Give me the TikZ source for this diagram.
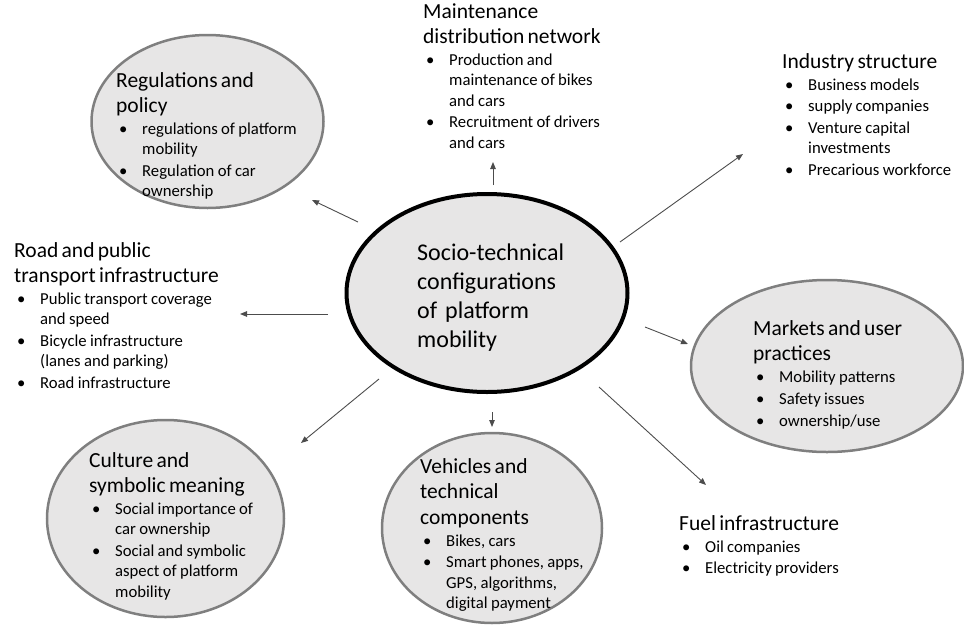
\documentclass[tikz,border=0pt]{standalone}
\usepackage{fontspec}
\setmainfont{Carlito}
\usetikzlibrary{shapes.geometric,arrows.meta}

\definecolor{shade}{HTML}{E7E6E6}
\definecolor{rim}{HTML}{7F7F7F}

\def\hd{\fontsize{21.5}{25.5}\selectfont\rule{0pt}{17pt}}
\newcommand{\itm}[1]{\par\fontsize{16.7}{20.3}\selectfont\setlength{\parskip}{1.5pt}%
  \hangindent=26pt\hangafter=1\noindent\hbox to 26pt{\hspace{3pt}\textbullet\hfil}#1\par}

\begin{document}
\begin{tikzpicture}[x=1pt,y=-1pt,
    bubble/.style={ellipse,draw=rim,line width=2.5pt,fill=shade,inner sep=0pt},
    txt/.style={anchor=north west,inner sep=0pt,text width=250pt,align=left},
    link/.style={draw=black!70,line width=0.9pt,-{Triangle[length=7pt,width=5.5pt]}}]
  \useasboundingbox (0,0) rectangle (964,624);

  \node[bubble,minimum width=232,minimum height=173] (reg) at (207.5,121.5) {};
  \node[bubble,minimum width=272,minimum height=172] (mkt) at (827,366) {};
  \node[bubble,minimum width=237,minimum height=197] (cult) at (165.5,518.5) {};
  \node[bubble,minimum width=220,minimum height=190] (veh) at (492,528) {};
  \node[bubble,draw=black,line width=4pt,minimum width=281,minimum height=198] (core) at (487,293) {};

  \node[txt,font=\fontsize{24}{29}\selectfont] (coretext) at (417,241)
    {\rule{0pt}{19pt}Socio-technical\newline configurations\newline of platform\newline mobility\par};

  \node[txt] (maintext) at (423,1) {\hd Maintenance\newline distribution network
    \itm{Production and\newline maintenance of bikes\newline and cars}
    \itm{Recruitment of drivers\newline and cars}};
  \node[txt] (indtext) at (782,51) {\hd Industry structure
    \itm{Business models}\itm{supply companies}
    \itm{Venture capital\newline investments}\itm{Precarious workforce}};
  \node[txt] (regtext) at (116,70) {\hd Regulations and\newline policy
    \itm{regulations of platform\newline mobility}
    \itm{Regulation of car\newline ownership}};
  \node[txt] (roadtext) at (14,240) {\hd Road and public\newline transport infrastructure
    \itm{Public transport coverage\newline and speed}
    \itm{Bicycle infrastructure\newline (lanes and parking)}
    \itm{Road infrastructure}};
  \node[txt] (mkttext) at (753,318) {\hd Markets and user\newline practices
    \itm{Mobility patterns}\itm{Safety issues}\itm{ownership/use}};
  \node[txt] (culttext) at (89,450) {\hd Culture and\newline symbolic meaning
    \itm{Social importance of\newline car ownership}
    \itm{Social and symbolic\newline aspect of platform\newline mobility}};
  \node[txt] (vehtext) at (420,456) {\hd Vehicles and\newline technical\newline components
    \itm{Bikes, cars}
    \itm{Smart phones, apps,\newline GPS, algorithms,\newline digital payment}};
  \node[txt] (fueltext) at (679,513) {\hd Fuel infrastructure
    \itm{Oil companies}\itm{Electricity providers}};

  \coordinate (up-a) at (493,185);   \coordinate (up-b) at (493,162);
  \coordinate (ind-a) at (620,242);  \coordinate (ind-b) at (743,154);
  \coordinate (reg-a) at (358,222);  \coordinate (reg-b) at (312,200);
  \coordinate (road-a) at (328,314); \coordinate (road-b) at (240,314);
  \coordinate (mkt-a) at (645,327);  \coordinate (mkt-b) at (688,344);
  \coordinate (fuel-a) at (599,387); \coordinate (fuel-b) at (706,485);
  \coordinate (cult-a) at (379,379); \coordinate (cult-b) at (301,443);
  \coordinate (down-a) at (492,412); \coordinate (down-b) at (492,427);
  \foreach \n in {up,ind,reg,road,mkt,fuel,cult,down}
    \draw[link] (\n-a) -- (\n-b);
\end{tikzpicture}
\end{document}
